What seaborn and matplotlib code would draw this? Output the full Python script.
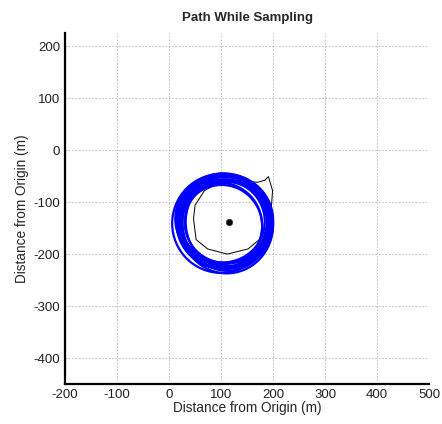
import matplotlib
matplotlib.use("Agg")
import matplotlib.pyplot as plt
from matplotlib.patches import Ellipse
import seaborn as sns

# black start of the path (metres)
start_x = [184, 191, 199, 196, 182, 152, 112, 74, 52, 47, 50, 68, 98, 138, 170, 184]
start_y = [-58, -51, -78, -120, -165, -190, -200, -190, -172, -132, -106, -78, -62, -58, -62, -58]

# blue sampling loops: centre and half-widths of each lap
loop_cx = [102, 108, 110, 99, 112, 105, 101, 114, 107, 104, 109, 100, 106, 111, 103, 108]
loop_cy = [-138, -142, -135, -145, -140, -132, -147, -138, -143, -136, -139, -141, -134, -144, -137, -140]
loop_rx = [88, 84, 90, 80, 86, 93, 78, 82, 91, 87, 79, 94, 85, 89, 81, 92]
loop_ry = [90, 86, 88, 82, 92, 87, 80, 89, 85, 91, 78, 95, 83, 93, 79, 88]

# sampling target
target_x = [116]
target_y = [-138]

xticks = [-200, -100, 0, 100, 200, 300, 400, 500]
yticks = [-400, -300, -200, -100, 0, 100, 200]

sns.set_style("white")
plt.rcParams['font.family'] = ['Liberation Sans', 'DejaVu Sans']
plt.rcParams['axes.unicode_minus'] = False

fig = plt.figure(figsize=(4.42, 4.24), dpi=100)
ax = fig.add_axes([0.145, 0.094, 0.828, 0.828])

for cx, cy, rx, ry in zip(loop_cx, loop_cy, loop_rx, loop_ry):
    ax.add_patch(Ellipse((cx, cy), 2 * rx, 2 * ry, fill=False,
                         edgecolor='#0000ff', linewidth=1.6, zorder=3))

sns.lineplot(x=start_x, y=start_y, sort=False, estimator=None,
             color='black', linewidth=0.7, ax=ax, zorder=2)
sns.scatterplot(x=target_x, y=target_y, color='black', s=22,
                edgecolor='#333333', ax=ax, zorder=4)

ax.set_xlim(-200, 500)
ax.set_ylim(-450, 225)
ax.set_aspect('equal')
ax.set_xticks(xticks)
ax.set_yticks(yticks)
ax.grid(True, color='#b5b5b5', linestyle=(0, (2, 2)), linewidth=0.6)
ax.tick_params(direction='in', length=3, width=0.8, labelsize=9.5, colors='#222222')

for s in ['top', 'right']:
    ax.spines[s].set_visible(False)
for s in ['left', 'bottom']:
    ax.spines[s].set_linewidth(1.6)
    ax.spines[s].set_color('black')

ax.set_title('Path While Sampling', fontsize=9.5, fontweight='bold', pad=9)
ax.set_xlabel('Distance from Origin (m)', fontsize=9.8, labelpad=0)
ax.set_ylabel('Distance from Origin (m)', fontsize=9.8, labelpad=3)

fig.savefig('out.png', dpi=100)
